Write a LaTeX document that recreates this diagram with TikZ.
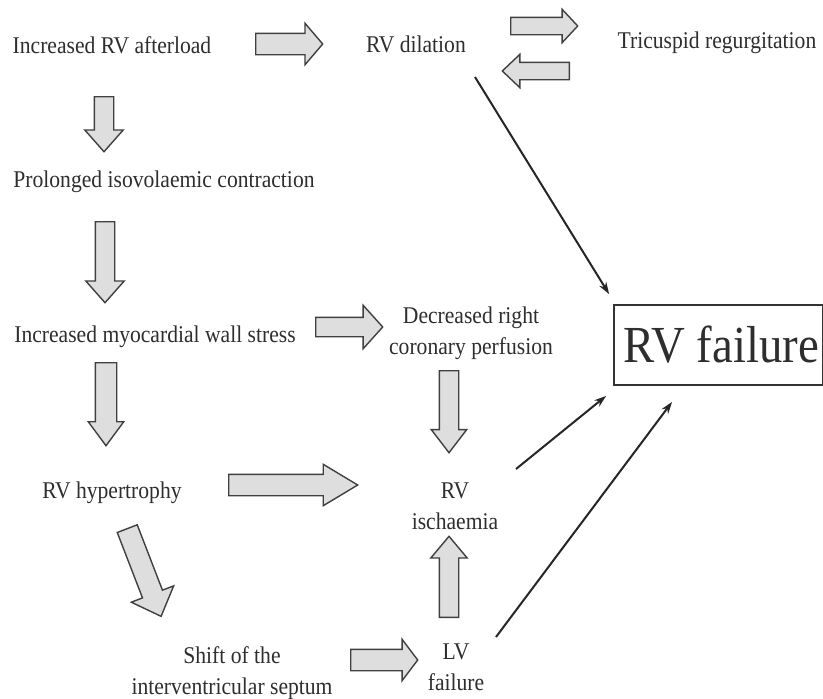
\documentclass[tikz,border=0pt]{standalone}
\usepackage{fontspec}
\setmainfont{Liberation Serif}[FakeStretch=0.9]
\usetikzlibrary{shapes.arrows,arrows.meta}
\begin{document}
\begin{tikzpicture}[x=1pt,y=-1pt,
  lbl/.style={inner sep=0pt, text=black!82, font=\fontsize{24}{31}\selectfont, align=center},
  barrow/.style={single arrow, draw=black!75, fill=black!13, line width=1.4pt, inner xsep=0pt, anchor=tail, minimum width=0pt},
  thinarrow/.style={draw=black!85, line width=2pt, -{Stealth[length=12pt,width=8pt]}},
  bigbox/.style={draw=black!80, line width=1.8pt, minimum width=209pt, minimum height=80pt, inner sep=0pt, font=\fontsize{52}{52}\selectfont, text=black!82}
]
\fill[white] (0,0) rectangle (823,699);
\useasboundingbox (0,0) rectangle (823,699);

% text nodes
\node[lbl, anchor=base] (A) at (112,53) {Increased RV afterload};
\node[lbl, anchor=base] (B) at (416,52) {RV dilation};
\node[lbl, anchor=base] (C) at (717,48) {Tricuspid regurgitation};
\node[lbl, anchor=base] (D) at (164,187) {Prolonged isovolaemic contraction};
\node[lbl, anchor=base] (E) at (155,342) {Increased myocardial wall stress};
\node[lbl, anchor=north] (F) at (471,307) {Decreased right\\coronary perfusion};
\node[lbl, anchor=base] (G) at (112,498) {RV hypertrophy};
\node[lbl, anchor=north] (H) at (455,483) {RV\\ischaemia};
\node[lbl, anchor=north] (I) at (232,646) {Shift of the\\interventricular septum};
\node[lbl, anchor=north] (J) at (456,644) {LV\\failure};
\node[bigbox] (K) at (718.5,345) {\hspace*{6pt}RV failure};

% block arrows
\node[barrow, rotate=0, minimum height=67pt, inner ysep=10pt, single arrow head extend=10pt, single arrow tip angle=99] (ab) at (255,44) {};
\node[barrow, rotate=0, minimum height=67pt, inner ysep=8pt, single arrow head extend=8pt, single arrow tip angle=94] (bc) at (510,26) {};
\node[barrow, rotate=180, minimum height=67pt, inner ysep=8pt, single arrow head extend=8pt, single arrow tip angle=87] (cb) at (570,71) {};
\node[barrow, rotate=-90, minimum height=55pt, inner ysep=9pt, single arrow head extend=9.5pt, single arrow tip angle=83] (ad) at (104,96) {};
\node[barrow, rotate=-90, minimum height=81pt, inner ysep=9pt, single arrow head extend=9.5pt, single arrow tip angle=83] (de) at (105,221) {};
\node[barrow, rotate=0, minimum height=67pt, inner ysep=9pt, single arrow head extend=12pt, single arrow tip angle=96] (ef) at (315,327) {};
\node[barrow, rotate=-90, minimum height=83pt, inner ysep=10pt, single arrow head extend=7pt, single arrow tip angle=73] (eg) at (106,362) {};
\node[barrow, rotate=0, minimum height=129pt, inner ysep=10pt, single arrow head extend=10pt, single arrow tip angle=62] (gh) at (228,485) {};
\node[barrow, rotate=-90, minimum height=82pt, inner ysep=9pt, single arrow head extend=8pt, single arrow tip angle=75] (fh) at (449,370) {};
\node[barrow, rotate=-68.9, minimum height=94pt, inner ysep=10pt, single arrow head extend=12pt, single arrow tip angle=87] (gi) at (127,528) {};
\node[barrow, rotate=0, minimum height=67pt, inner ysep=10pt, single arrow head extend=10pt, single arrow tip angle=106] (ij) at (350,660) {};
\node[barrow, rotate=90, minimum height=81pt, inner ysep=9pt, single arrow head extend=8.5pt, single arrow tip angle=80] (jh) at (449,618) {};

% thin arrows to RV failure
\draw[thinarrow] ([shift={(59,25)}]B.base) -- ([shift={(-4,-10)}]K.north west);
\draw[thinarrow] ([shift={(61,-14)}]H.north) -- ([shift={(-7,10)}]K.south west);
\draw[thinarrow] ([shift={(40,-7)}]J.north) -- ([shift={(59,16)}]K.south west);
\end{tikzpicture}
\end{document}
